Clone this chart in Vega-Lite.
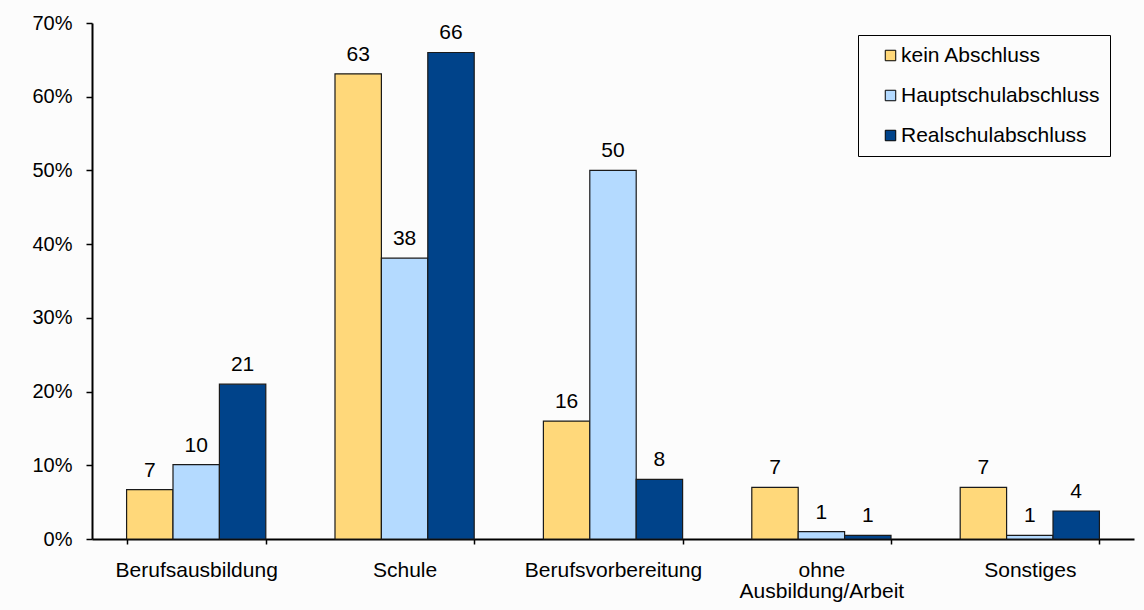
{
  "$schema": "https://vega.github.io/schema/vega-lite/v6.json",
  "width": 1042,
  "height": 516,
  "autosize": "none",
  "padding": {"left": 92, "top": 23, "right": 10, "bottom": 71},
  "background": "#fcfcfc",
  "config": {
    "view": {"stroke": null},
    "font": "Liberation Sans",
    "axis": {"grid": false, "domainColor": "#000000", "domainWidth": 2, "tickColor": "#000000", "tickWidth": 1.5, "labelColor": "#000000", "labelFontSize": 21, "labelFont": "Liberation Sans", "title": null}
  },
  "data": {
    "values": [
      {"kategorie": "Berufsausbildung", "abschluss": "kein Abschluss", "wert": 6.7, "label": "7"},
      {"kategorie": "Berufsausbildung", "abschluss": "Hauptschulabschluss", "wert": 10.1, "label": "10"},
      {"kategorie": "Berufsausbildung", "abschluss": "Realschulabschluss", "wert": 21.0, "label": "21"},
      {"kategorie": "Schule", "abschluss": "kein Abschluss", "wert": 63.1, "label": "63"},
      {"kategorie": "Schule", "abschluss": "Hauptschulabschluss", "wert": 38.1, "label": "38"},
      {"kategorie": "Schule", "abschluss": "Realschulabschluss", "wert": 66.0, "label": "66"},
      {"kategorie": "Berufsvorbereitung", "abschluss": "kein Abschluss", "wert": 16.0, "label": "16"},
      {"kategorie": "Berufsvorbereitung", "abschluss": "Hauptschulabschluss", "wert": 50.0, "label": "50"},
      {"kategorie": "Berufsvorbereitung", "abschluss": "Realschulabschluss", "wert": 8.1, "label": "8"},
      {"kategorie": "ohne Ausbildung/Arbeit", "abschluss": "kein Abschluss", "wert": 7.0, "label": "7"},
      {"kategorie": "ohne Ausbildung/Arbeit", "abschluss": "Hauptschulabschluss", "wert": 1.0, "label": "1"},
      {"kategorie": "ohne Ausbildung/Arbeit", "abschluss": "Realschulabschluss", "wert": 0.5, "label": "1"},
      {"kategorie": "Sonstiges", "abschluss": "kein Abschluss", "wert": 7.0, "label": "7"},
      {"kategorie": "Sonstiges", "abschluss": "Hauptschulabschluss", "wert": 0.5, "label": "1"},
      {"kategorie": "Sonstiges", "abschluss": "Realschulabschluss", "wert": 3.8, "label": "4"}
    ]
  },
  "encoding": {
    "x": {
      "field": "kategorie",
      "type": "nominal",
      "sort": ["Berufsausbildung", "Schule", "Berufsvorbereitung", "ohne Ausbildung/Arbeit", "Sonstiges"],
      "scale": {"paddingInner": 0.332, "paddingOuter": 0.166},
      "axis": {"labelAngle": 0, "tickBand": "extent", "tickSize": 5, "labelPadding": 15, "labelLineHeight": 21,
               "labelExpr": "datum.value == 'ohne Ausbildung/Arbeit' ? ['ohne', 'Ausbildung/Arbeit'] : datum.value"}
    },
    "xOffset": {
      "field": "abschluss",
      "type": "nominal",
      "sort": ["kein Abschluss", "Hauptschulabschluss", "Realschulabschluss"],
      "scale": {"paddingInner": 0, "paddingOuter": 0}
    },
    "y": {
      "field": "wert",
      "type": "quantitative",
      "scale": {"domain": [0, 70], "nice": false},
      "axis": {"values": [0, 10, 20, 30, 40, 50, 60, 70], "tickSize": 6, "labelPadding": 14, "labelFontSize": 20, "labelExpr": "datum.value + '%'"}
    }
  },
  "layer": [
    {
      "mark": {"type": "bar", "stroke": "#1a1a1a", "strokeWidth": 1.2},
      "encoding": {
        "color": {
          "field": "abschluss",
          "type": "nominal",
          "sort": ["kein Abschluss", "Hauptschulabschluss", "Realschulabschluss"],
          "scale": {"domain": ["kein Abschluss", "Hauptschulabschluss", "Realschulabschluss"], "range": ["#FFD87A", "#B4DAFF", "#00438A"]},
          "legend": {
            "title": null,
            "orient": "none",
            "legendX": 766,
            "legendY": 12,
            "symbolType": "square",
            "symbolSize": 110,
            "symbolStrokeColor": "#000000",
            "symbolStrokeWidth": 1,
            "symbolOffset": 12,
            "labelFontSize": 21,
            "labelLimit": 400,
            "labelColor": "#000000",
            "labelFont": "Liberation Sans",
            "labelOffset": 0,
            "rowPadding": 18,
            "padding": 10,
            "strokeColor": "#000000",
            "fillColor": "#fcfcfc"
          }
        }
      }
    },
    {
      "mark": {"type": "text", "baseline": "alphabetic", "dy": -13, "fontSize": 21, "color": "#000000", "font": "Liberation Sans"},
      "encoding": {
        "text": {"field": "label", "type": "nominal"}
      }
    }
  ]
}
